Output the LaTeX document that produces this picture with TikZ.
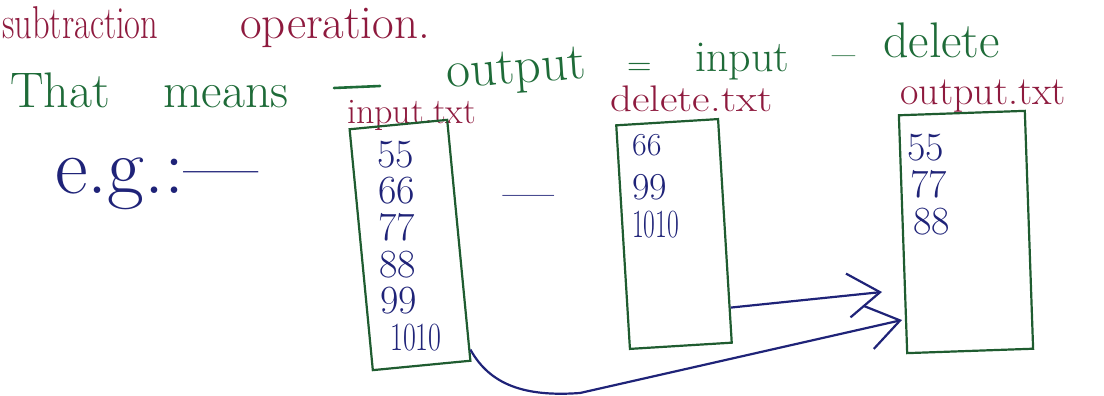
\documentclass[tikz,border=0pt]{standalone}
\usepackage{fontspec}
\usepackage{graphicx}
\usetikzlibrary{arrows.meta,calc}
\definecolor{maroon}{HTML}{8E1A3E}
\definecolor{pen}{HTML}{1E6B38}
\definecolor{boxgreen}{HTML}{1F5C30}
\definecolor{navy}{HTML}{1F2378}
\newcommand{\fs}[1]{\fontsize{#1}{#1}\selectfont}
\begin{document}
\begin{tikzpicture}[x=1pt,y=-1pt,
  txt/.style={inner sep=0pt, anchor=base west},
  redtxt/.style={txt, text=maroon},
  grntxt/.style={txt, text=pen},
  num/.style={txt, text=navy, font=\fs{40}},
  filebox/.style={draw=boxgreen, line width=2.2pt, rectangle, inner sep=0pt},
  pendash/.style={draw=pen, line width=2.6pt, line cap=round},
  arr/.style={draw=navy, line width=2.2pt,
    -{Straight Barb[length=32pt,width=44pt,line width=2.2pt]}}]
\useasboundingbox (0,0) rectangle (1104,396);

% top line
\node[redtxt, font=\fs{46}] (sub) at (2,39) {\scalebox{0.75}[1]{subtraction}};
\node[redtxt, font=\fs{47}] (op) at (240,39) {operation.};

% second line
\node[grntxt, font=\fs{50}] (that) at (10,107) {That};
\node[grntxt, font=\fs{50}] (means) at (163,107) {means};
\draw[pendash] (334,88) -- (380,86);
\node[grntxt, font=\fs{52}, rotate=4] (out) at (447,88) {output};
\node[grntxt, font=\fs{34}] (eq) at (627,76) {=};
\node[grntxt, font=\fs{44}] (inw) at (695,72) {input};
\node[grntxt, font=\fs{50}] (minus) at (832,70) {–};
\node[grntxt, font=\fs{50}] (delw) at (883,58) {delete};

% e.g.
\node[txt, text=navy, font=\fs{80}] (eg) at (55,193) {e.g.:—};

% file labels
\node[redtxt, font=\fs{36}] (lin) at (347,123) {input.txt};
\node[redtxt, font=\fs{37}] (ldel) at (610,111) {\scalebox{1.16}[1]{delete.txt}};
\node[redtxt, font=\fs{40}] (lout) at (900,105) {output.txt};

% boxes
\node[filebox, minimum width=98pt, minimum height=242pt, rotate=5.5] (inbox) at (410,245) {};
\node[filebox, minimum width=102pt, minimum height=224pt, rotate=3.5] (delbox) at (674,234) {};
\node[filebox, minimum width=126pt, minimum height=238pt, rotate=2] (outbox) at (966,232) {};

% input numbers
\node[num] (i1) at (377,167) {55};
\node[num] (i2) at (378,203) {66};
\node[num] (i3) at (378,240) {77};
\node[num] (i4) at (379,277) {88};
\node[num] (i5) at (380,313) {99};
\node[num] (i6) at (390,350) {\scalebox{0.7}[1]{1010}};

% delete numbers
\node[num, font=\fs{32}] (d1) at (632,155) {66};
\node[num, font=\fs{38}] (d2) at (632,199) {99};
\node[num] (d3) at (632,237) {\scalebox{0.64}[1]{1010}};

% output numbers
\node[num] (o1) at (907,160) {55};
\node[num] (o2) at (910,197) {77};
\node[num] (o3) at (913,234) {88};

% minus between files
\node[txt, text=navy, font=\fs{55}] (op2) at (503,210) {—};

% arrows
\coordinate (a1end) at (882,292);
\coordinate (a2end) at (902,320);
\draw[arr] ($(delbox.north east)!0.84!(delbox.south east)$) -- (a1end);
\draw[arr] ($(inbox.north east)!0.95!(inbox.south east)$)
  .. controls (490,385) and (525,397) .. (580,393) -- (a2end);
\end{tikzpicture}
\end{document}
